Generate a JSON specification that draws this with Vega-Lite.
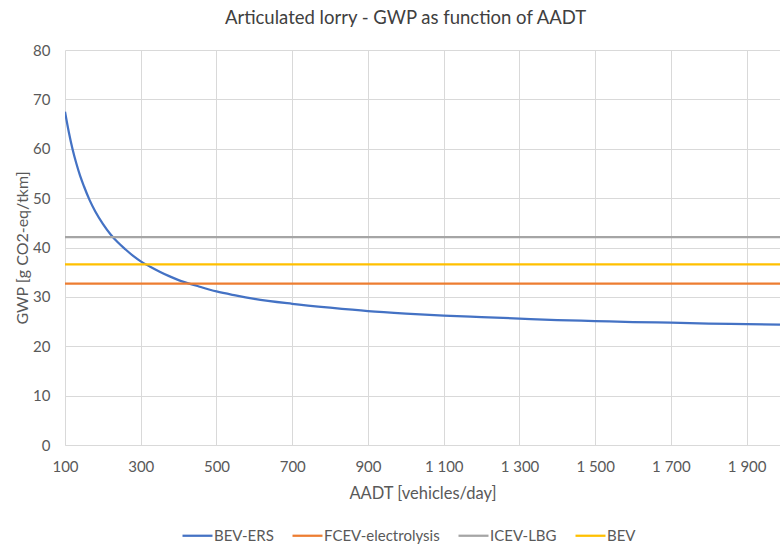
{
  "$schema": "https://vega.github.io/schema/vega-lite/v6.json",
  "autosize": "none",
  "width": 715,
  "height": 395,
  "padding": {"left": 65, "top": 50, "right": 0, "bottom": 99},
  "background": "white",
  "config": {
    "font": "Lato",
    "view": {"stroke": null}
  },
  "title": {
    "text": "Articulated lorry - GWP as function of AADT",
    "fontSize": 18.5,
    "fontWeight": "normal",
    "color": "#404040",
    "baseline": "alphabetic",
    "frame": "group",
    "offset": 1,
    "dx": -17
  },
  "data": {
    "values": [
      {"series": "BEV-ERS", "aadt": 100, "gwp": 67.5},
      {"series": "BEV-ERS", "aadt": 110, "gwp": 63.4},
      {"series": "BEV-ERS", "aadt": 120, "gwp": 59.9},
      {"series": "BEV-ERS", "aadt": 130, "gwp": 57.0},
      {"series": "BEV-ERS", "aadt": 140, "gwp": 54.5},
      {"series": "BEV-ERS", "aadt": 150, "gwp": 52.4},
      {"series": "BEV-ERS", "aadt": 165, "gwp": 49.6},
      {"series": "BEV-ERS", "aadt": 180, "gwp": 47.3},
      {"series": "BEV-ERS", "aadt": 200, "gwp": 44.8},
      {"series": "BEV-ERS", "aadt": 220, "gwp": 42.7},
      {"series": "BEV-ERS", "aadt": 240, "gwp": 41.0},
      {"series": "BEV-ERS", "aadt": 260, "gwp": 39.6},
      {"series": "BEV-ERS", "aadt": 280, "gwp": 38.3},
      {"series": "BEV-ERS", "aadt": 300, "gwp": 37.2},
      {"series": "BEV-ERS", "aadt": 325, "gwp": 36.1},
      {"series": "BEV-ERS", "aadt": 350, "gwp": 35.1},
      {"series": "BEV-ERS", "aadt": 375, "gwp": 34.2},
      {"series": "BEV-ERS", "aadt": 400, "gwp": 33.4},
      {"series": "BEV-ERS", "aadt": 450, "gwp": 32.2},
      {"series": "BEV-ERS", "aadt": 500, "gwp": 31.1},
      {"series": "BEV-ERS", "aadt": 550, "gwp": 30.3},
      {"series": "BEV-ERS", "aadt": 600, "gwp": 29.6},
      {"series": "BEV-ERS", "aadt": 700, "gwp": 28.6},
      {"series": "BEV-ERS", "aadt": 800, "gwp": 27.8},
      {"series": "BEV-ERS", "aadt": 900, "gwp": 27.1},
      {"series": "BEV-ERS", "aadt": 1000, "gwp": 26.6},
      {"series": "BEV-ERS", "aadt": 1100, "gwp": 26.2},
      {"series": "BEV-ERS", "aadt": 1200, "gwp": 25.9},
      {"series": "BEV-ERS", "aadt": 1300, "gwp": 25.6},
      {"series": "BEV-ERS", "aadt": 1400, "gwp": 25.3},
      {"series": "BEV-ERS", "aadt": 1500, "gwp": 25.1},
      {"series": "BEV-ERS", "aadt": 1600, "gwp": 24.9},
      {"series": "BEV-ERS", "aadt": 1700, "gwp": 24.8},
      {"series": "BEV-ERS", "aadt": 1800, "gwp": 24.6},
      {"series": "BEV-ERS", "aadt": 1900, "gwp": 24.5},
      {"series": "BEV-ERS", "aadt": 1988, "gwp": 24.4},
      {"series": "FCEV-electrolysis", "aadt": 100, "gwp": 32.7},
      {"series": "FCEV-electrolysis", "aadt": 1988, "gwp": 32.7},
      {"series": "ICEV-LBG", "aadt": 100, "gwp": 42.1},
      {"series": "ICEV-LBG", "aadt": 1988, "gwp": 42.1},
      {"series": "BEV", "aadt": 100, "gwp": 36.6},
      {"series": "BEV", "aadt": 1988, "gwp": 36.6}
    ]
  },
  "mark": {"type": "line", "strokeWidth": 2.25, "clip": true, "interpolate": "monotone"},
  "encoding": {
    "x": {
      "field": "aadt",
      "type": "quantitative",
      "scale": {"domain": [100, 1988], "nice": false, "zero": false},
      "axis": {
        "title": "AADT [vehicles/day]",
        "values": [100, 300, 500, 700, 900, 1100, 1300, 1500, 1700, 1900],
        "labelExpr": "replace(format(datum.value, ','), ',', ' ')",
        "labelFontSize": 15,
        "labelColor": "#595959",
        "labelPadding": 14,
        "labelFlush": false,
        "labelOverlap": false,
        "ticks": false,
        "grid": true,
        "gridColor": "#D9D9D9",
        "gridWidth": 1,
        "domainColor": "#D9D9D9",
        "domainWidth": 1,
        "titleFontSize": 16.5,
        "titleFontWeight": "normal",
        "titleColor": "#595959",
        "titlePadding": 11
      }
    },
    "y": {
      "field": "gwp",
      "type": "quantitative",
      "scale": {"domain": [0, 80], "nice": false},
      "axis": {
        "title": "GWP [g CO2-eq/tkm]",
        "values": [0, 10, 20, 30, 40, 50, 60, 70, 80],
        "labelFontSize": 15,
        "labelColor": "#595959",
        "labelPadding": 15,
        "ticks": false,
        "domain": false,
        "grid": true,
        "gridColor": "#D9D9D9",
        "gridWidth": 1,
        "titleFontSize": 16,
        "titleFontWeight": "normal",
        "titleColor": "#595959",
        "titlePadding": 2
      }
    },
    "color": {
      "field": "series",
      "type": "nominal",
      "scale": {
        "domain": ["BEV-ERS", "FCEV-electrolysis", "ICEV-LBG", "BEV"],
        "range": ["#4472C4", "#ED7D31", "#A5A5A5", "#FFC000"]
      },
      "legend": {
        "title": null,
        "orient": "none",
        "direction": "horizontal",
        "legendX": 116,
        "legendY": 469,
        "symbolType": "stroke",
        "symbolSize": 900,
        "symbolStrokeWidth": 2.25,
        "labelFontSize": 15,
        "labelColor": "#595959",
        "labelOffset": 0,
        "columnPadding": 14,
        "padding": 0
      }
    },
    "order": {"field": "series"}
  }
}
